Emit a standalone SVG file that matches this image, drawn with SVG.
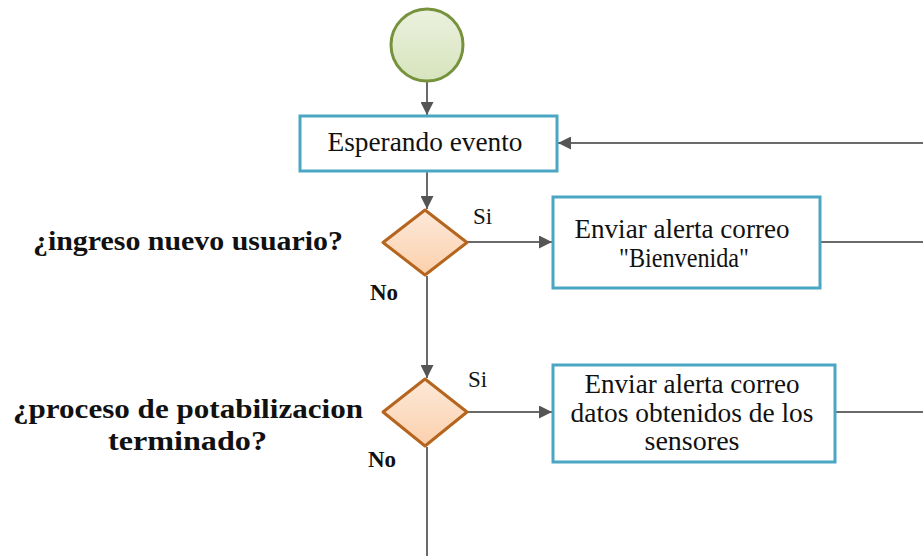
<svg xmlns="http://www.w3.org/2000/svg" width="923" height="556" viewBox="0 0 923 556">
<defs>
<linearGradient id="gStart" x1="0" y1="0" x2="0" y2="1"><stop offset="0" stop-color="#ebf1de"/><stop offset="1" stop-color="#d7e4bd"/></linearGradient>
<linearGradient id="gDec" x1="0" y1="0" x2="0" y2="1"><stop offset="0" stop-color="#fde9d9"/><stop offset="1" stop-color="#fbd0ac"/></linearGradient>
<marker id="arr" viewBox="0 0 10 10" refX="10" refY="5" markerWidth="13" markerHeight="13" markerUnits="userSpaceOnUse" orient="auto"><path d="M0,0 L10,5 L0,10 z" fill="#555"/></marker>
<style>
.task{fill:#fff;stroke:#4aa6c2;stroke-width:3}
.dec{fill:url(#gDec);stroke:#b5651d;stroke-width:3;stroke-linejoin:round}
.conn{fill:none;stroke:#6a6a6a;stroke-width:2}
.t{font-family:"Liberation Serif",serif;font-size:27px;fill:#111;text-anchor:middle}
.q{font-family:"Liberation Serif",serif;font-size:27px;font-weight:bold;fill:#111}
.lbl{font-family:"Liberation Serif",serif;font-size:23px;fill:#111}
</style>
</defs>
<g id="connectors">
<line class="conn" x1="427" y1="82" x2="427" y2="115" marker-end="url(#arr)"/>
<line class="conn" x1="427" y1="172" x2="427" y2="209" marker-end="url(#arr)"/>
<line class="conn" x1="427" y1="276" x2="427" y2="378" marker-end="url(#arr)"/>
<line class="conn" x1="427" y1="447" x2="427" y2="556"/>
<line class="conn" x1="467" y1="242" x2="552" y2="242" marker-end="url(#arr)"/>
<line class="conn" x1="467" y1="412" x2="552" y2="412" marker-end="url(#arr)"/>
<line class="conn" x1="821" y1="242" x2="923" y2="242"/>
<line class="conn" x1="836" y1="412" x2="923" y2="412"/>
<line class="conn" x1="923" y1="143" x2="558" y2="143" marker-end="url(#arr)"/>
</g>
<g id="start"><circle cx="427" cy="45" r="36" fill="url(#gStart)" stroke="#76923c" stroke-width="3"/></g>
<g id="esperando">
<rect class="task" x="300" y="116" width="257" height="55"/>
<text class="t" x="425" y="151" textLength="195" lengthAdjust="spacingAndGlyphs">Esperando evento</text>
</g>
<g id="dec1">
<polygon class="dec" points="425,210 467,242.5 425,275 383,242.5"/>
<text class="q" x="33" y="250" textLength="310" lengthAdjust="spacingAndGlyphs">¿ingreso nuevo usuario?</text>
<text class="lbl" x="473" y="224">Si</text>
<text class="lbl" x="370" y="300" font-weight="bold">No</text>
</g>
<g id="bienvenida">
<rect class="task" x="553" y="197" width="267" height="91"/>
<text class="t" x="682" y="238" textLength="215" lengthAdjust="spacingAndGlyphs">Enviar alerta correo</text>
<text class="t" x="684" y="267" textLength="130" lengthAdjust="spacingAndGlyphs">"Bienvenida"</text>
</g>
<g id="dec2">
<polygon class="dec" points="425,379 467,412 425,446 383,412"/>
<text class="q" x="13" y="418" textLength="350" lengthAdjust="spacingAndGlyphs">¿proceso de potabilizacion</text>
<text class="q" x="108" y="450" textLength="159" lengthAdjust="spacingAndGlyphs">terminado?</text>
<text class="lbl" x="468" y="387">Si</text>
<text class="lbl" x="368" y="467" font-weight="bold">No</text>
</g>
<g id="datos">
<rect class="task" x="553" y="365" width="282" height="97"/>
<text class="t" x="692" y="393" textLength="215" lengthAdjust="spacingAndGlyphs">Enviar alerta correo</text>
<text class="t" x="692" y="422" textLength="243" lengthAdjust="spacingAndGlyphs">datos obtenidos de los</text>
<text class="t" x="692" y="450" textLength="95" lengthAdjust="spacingAndGlyphs">sensores</text>
</g>
</svg>
